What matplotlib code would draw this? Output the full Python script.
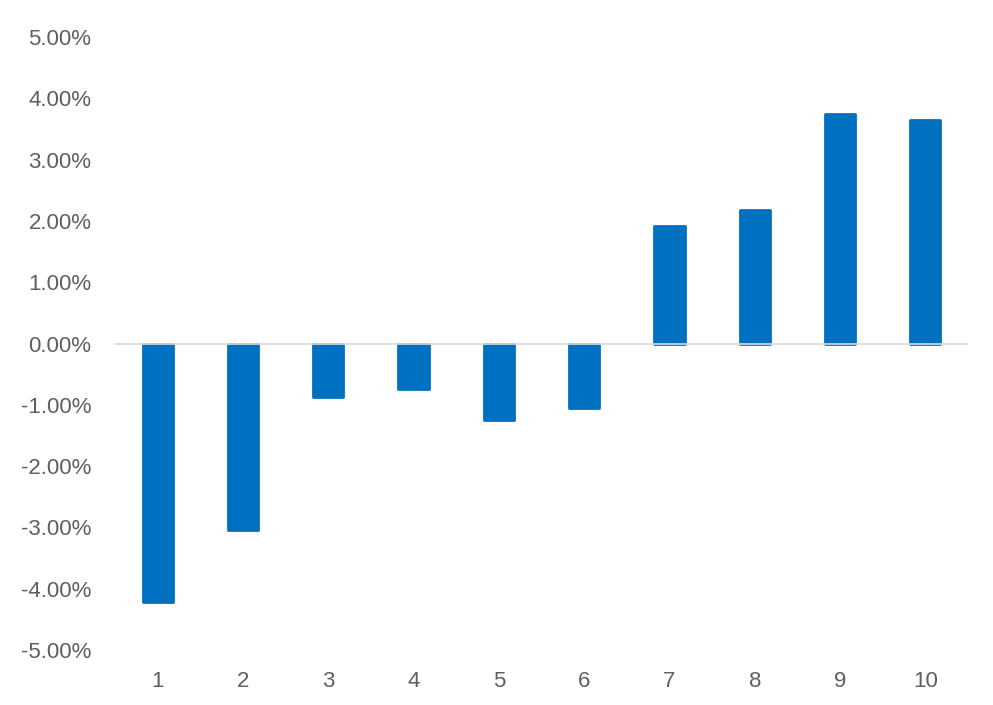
import matplotlib
matplotlib.use("Agg")
import matplotlib.pyplot as plt
from matplotlib.ticker import FuncFormatter

categories = [1, 2, 3, 4, 5, 6, 7, 8, 9, 10]
values = [-4.21, -3.05, -0.88, -0.75, -1.24, -1.06, 1.91, 2.18, 3.75, 3.64]
yticks = [-5, -4, -3, -2, -1, 0, 1, 2, 3, 4, 5]

plt.rcParams['font.family'] = ['Liberation Sans', 'DejaVu Sans']
fig = plt.figure(figsize=(9.93, 7.05), dpi=100)
ax = fig.add_axes([115/993, 1-650/705, (968-115)/993, (650-37)/705])

ax.bar(categories, values, width=0.355, color='#0070C0', edgecolor='#0070C0',
       linewidth=2, joinstyle='round', zorder=2)
ax.axhline(0, color='#D9D9D9', linewidth=1.2, zorder=3)

ax.set_xlim(0.5, 10.5)
ax.set_ylim(-5, 5)
ax.set_yticks(yticks)
ax.yaxis.set_major_formatter(FuncFormatter(lambda v, p: f"{v:.2f}%"))
ax.set_xticks(categories)
ax.set_xticklabels([str(c) for c in categories])
for s in ax.spines.values():
    s.set_visible(False)
ax.tick_params(axis='both', length=0, labelsize=16, labelcolor='#5f5f5f')
ax.tick_params(axis='y', pad=17)
ax.tick_params(axis='x', pad=15)

fig.savefig('out.png', dpi=100)
